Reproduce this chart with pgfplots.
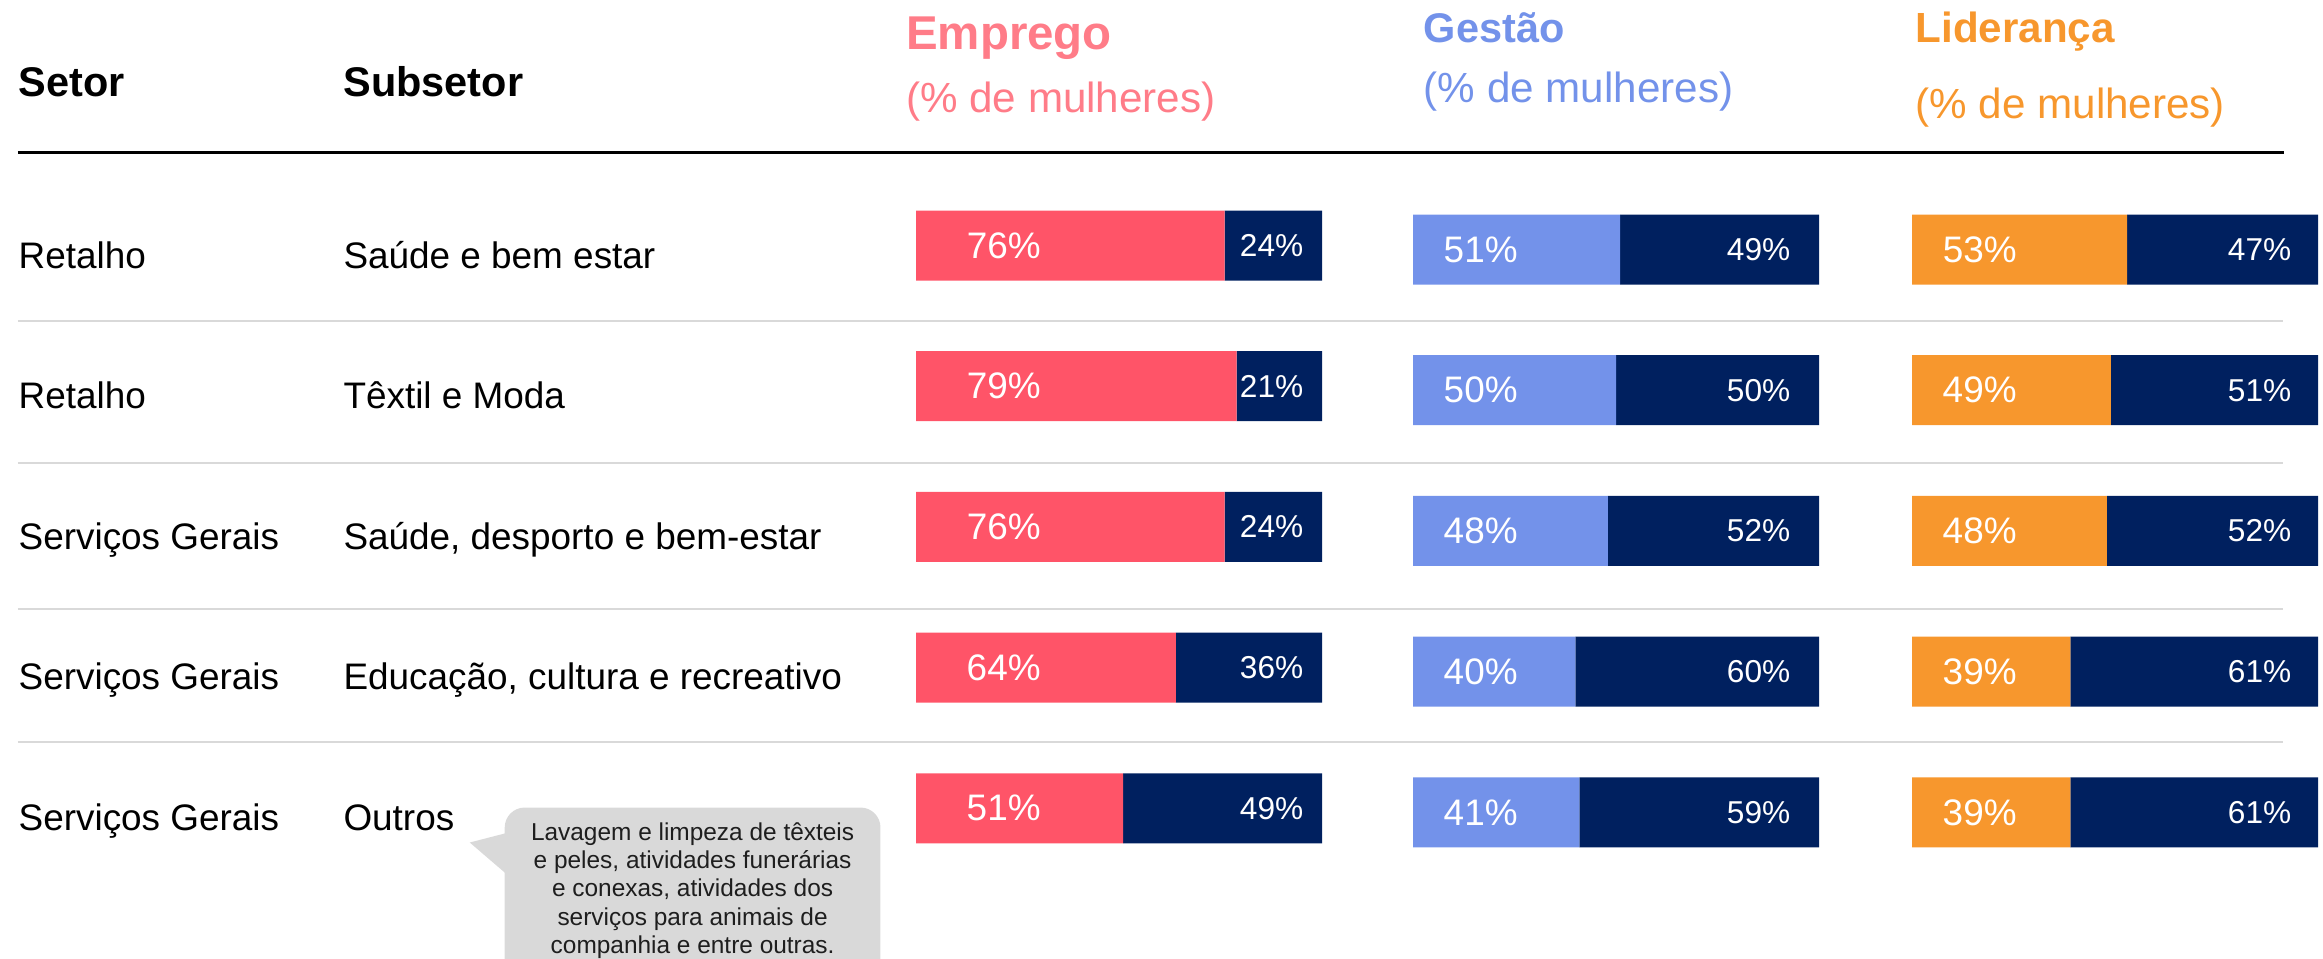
\documentclass[border=0pt]{standalone}
\usepackage{pgfplots}
\pgfplotsset{compat=1.18}
\usepackage{pgfplotstable}
\usepackage{fontspec}
\setmainfont{Liberation Sans}
\definecolor{pinkbar}{HTML}{FF5468}
\definecolor{pinktitle}{HTML}{FF7C88}
\definecolor{navy}{HTML}{00205F}
\definecolor{bluebar}{HTML}{7392EA}
\definecolor{orangebar}{HTML}{F7972D}
\definecolor{sepgray}{HTML}{D9D9D9}
\definecolor{callgray}{HTML}{D9D9D9}
\definecolor{calltext}{HTML}{1E1E1E}

% row: 0..4 top to bottom; f: women (%), m: men (%)
\pgfplotstableread{
row f m
0 76 24
1 79 21
2 76 24
3 64 36
4 51 49
}\emprego
\pgfplotstableread{
row f m
0 51 49
1 50 50
2 48 52
3 40 60
4 41 59
}\gestao
\pgfplotstableread{
row f m
0 53 47
1 49 51
2 48 52
3 39 61
4 39 61
}\lideranca

\pgfplotsset{
  bargroup/.style={
    xbar stacked, scale only axis, width=4.06cm, height=7.035cm,
    xmin=0, xmax=100, ymin=-0.5, ymax=4.5, y dir=reverse,
    bar width=0.70cm, hide axis, anchor=north west, clip=false,
    point meta=explicit symbolic,
  },
  % nodes near coords sit at the middle of each stacked segment;
  % shift them to the start (women) or the end (men) of the bar.
  flabel/.style={draw=none,
    nodes near coords={\pgfplotspointmeta\%},
    every node near coord/.append style={anchor=west, inner sep=0pt,
      text=white, font=\fontsize{10.5}{12}\selectfont,
      xshift={#1-\pgfplotspointmeta*0.0203cm}}},
  mlabel/.style={draw=none, fill=navy,
    nodes near coords={\pgfplotspointmeta\%},
    every node near coord/.append style={anchor=east, inner sep=0pt,
      text=white, font=\fontsize{9}{11}\selectfont,
      xshift={\pgfplotspointmeta*0.0203cm-#1}}},
}

\begin{document}
\begin{tikzpicture}
\useasboundingbox (0,0) rectangle (23.23cm,-9.59cm);

% ---------- bars ----------
\begin{axis}[bargroup, at={(9.16cm,-1.7515cm)}]
  \addplot[fill=pinkbar, flabel=0.50cm] table[x=f, y=row, meta=f] {\emprego};
  \addplot[mlabel=0.18cm] table[x=m, y=row, meta=m] {\emprego};
\end{axis}
\begin{axis}[bargroup, at={(14.13cm,-1.7915cm)}]
  \addplot[fill=bluebar, flabel=0.30cm] table[x=f, y=row, meta=f] {\gestao};
  \addplot[mlabel=0.28cm] table[x=m, y=row, meta=m] {\gestao};
\end{axis}
\begin{axis}[bargroup, at={(19.12cm,-1.7915cm)}]
  \addplot[fill=orangebar, flabel=0.30cm] table[x=f, y=row, meta=f] {\lideranca};
  \addplot[mlabel=0.26cm] table[x=m, y=row, meta=m] {\lideranca};
\end{axis}

% ---------- table text ----------
\begin{scope}[x=0.01cm, y=-0.01cm, every node/.style={inner sep=0pt}]
  % rules
  \draw[black, line width=0.85pt] (18,153) -- (2285,153);
  \foreach \yy in {321,463,609,742}
    \draw[sepgray, line width=0.55pt] (18,\yy) -- (2284,\yy);

  % headers
  \node[anchor=base west, font=\fontsize{11.8}{14}\selectfont\bfseries] at (18,97) {Setor};
  \node[anchor=base west, font=\fontsize{11.8}{14}\selectfont\bfseries] at (343,97) {Subsetor};
  \node[anchor=base west, text=pinktitle, font=\fontsize{13.5}{16}\selectfont\bfseries] at (906,50) {Emprego};
  \node[anchor=base west, text=pinktitle, font=\fontsize{12}{14}\selectfont] at (906,113) {(\% de mulheres)};
  \node[anchor=base west, text=bluebar, font=\fontsize{11.8}{14}\selectfont\bfseries] at (1424,43) {Gestão};
  \node[anchor=base west, text=bluebar, font=\fontsize{12}{14}\selectfont] at (1424,103) {(\% de mulheres)};
  \node[anchor=base west, text=orangebar, font=\fontsize{12}{14}\selectfont\bfseries] at (1916,43) {Liderança};
  \node[anchor=base west, text=orangebar, font=\fontsize{12}{14}\selectfont] at (1916,119) {(\% de mulheres)};

  % row labels
  \begin{scope}[every node/.style={inner sep=0pt, anchor=base west, font=\fontsize{10.5}{12.5}\selectfont}]
    \node at (18,268.5) {Retalho};
    \node at (343,268.5) {Saúde e bem estar};
    \node at (18,409) {Retalho};
    \node at (343,409) {Têxtil e Moda};
    \node at (18,550) {Serviços Gerais};
    \node at (343,550) {Saúde, desporto e bem-estar};
    \node at (18,690) {Serviços Gerais};
    \node at (343,690) {Educação, cultura e recreativo};
    \node at (18,831) {Serviços Gerais};
    \node at (343,831) {Outros};
  \end{scope}

  % callout
  \fill[callgray, rounded corners=0.2cm] (505,808) rectangle (881,1000);
  \fill[callgray] (470,843) -- (515,831.4) -- (515,881.6) -- cycle;
  \begin{scope}[every node/.style={inner sep=0pt, anchor=base, text=calltext, font=\fontsize{6.95}{8}\selectfont}]
    \node at (693,841) {Lavagem e limpeza de têxteis};
    \node at (693,869) {e peles, atividades funerárias};
    \node at (693,897) {e conexas, atividades dos};
    \node at (693,926) {serviços para animais de};
    \node at (693,954) {companhia e entre outras.};
  \end{scope}
\end{scope}
\end{tikzpicture}
\end{document}
